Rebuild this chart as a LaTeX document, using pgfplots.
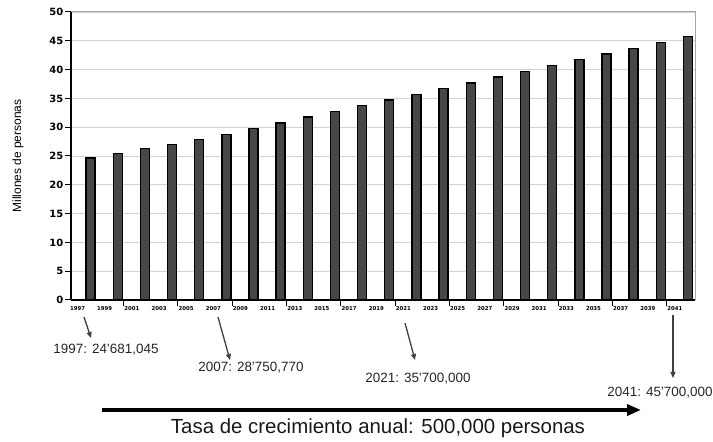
\documentclass[border=0pt]{standalone}
\usepackage{pgfplots}
\pgfplotsset{compat=1.18}
\usepackage{fontspec}
\setmainfont{Liberation Sans}
\newfontfamily\deja{DejaVu Sans}
\usetikzlibrary{arrows.meta}
\begin{document}
\begin{tikzpicture}[x=1bp,y=1bp]
\useasboundingbox (0,0) rectangle (713,442);
\begin{axis}[
  at={(71bp,142bp)}, anchor=south west,
  scale only axis, width=624bp, height=288bp,
  xmin=-0.72, xmax=22.26, ymin=0, ymax=50,
  axis line style={draw=gray!70, line width=1pt},
  ytick={0,5,...,50},
  ytick pos=left, xtick pos=bottom,
  tick align=outside,
  major tick length=6bp,
  tick style={black, line width=1pt},
  ymajorgrids, grid style={gray!35, line width=0.8pt},
  /pgf/number format/assume math mode=true,
  yticklabel style={font=\deja\bfseries\fontsize{10}{12}\selectfont, inner sep=1.5bp},
  xtick={1.22,3.22,5.22,7.22,9.22,11.22,13.22,15.22,17.22,19.22,21.22},
  xticklabels={},
  extra x ticks={0,...,22},
  extra x tick labels={1997,1999,2001,2003,2005,2007,2009,2011,2013,2015,2017,2019,2021,2023,2025,2027,2029,2031,2033,2035,2037,2039,2041},
  extra x tick style={grid=none, major tick length=0pt,
     xticklabel style={font=\deja\bfseries\fontsize{5.4}{6}\selectfont, xshift=-13bp, yshift=-5bp, inner sep=1bp}},
  ylabel={Millones de personas},
  ylabel style={at={(axis description cs:-0.0849,0.5)}, anchor=center, font=\fontsize{12}{14}\selectfont},
  clip=false,
]
\addplot[ybar, bar width=9bp, fill=black!72, draw=black, line width=1.4bp] coordinates {
(0,24.68) (1,25.45) (2,26.25) (3,27.0) (4,27.9) (5,28.75) (6,29.8) (7,30.75) (8,31.75) (9,32.75) (10,33.75)
(11,34.75) (12,35.7) (13,36.7) (14,37.7) (15,38.7) (16,39.7) (17,40.7) (18,41.7) (19,42.7) (20,43.7) (21,44.7) (22,45.7)};
\draw[black, line width=2pt] (rel axis cs:0,0) -- (rel axis cs:0,1);
\draw[black, line width=1.5pt] (rel axis cs:0,0) -- (rel axis cs:1,0);
\end{axis}
% annotations
\begin{scope}[black!75, line width=1.3bp, -{Triangle[length=6bp,width=5bp]}]
\draw (84,125) -- (91,104);
\draw (218,125) -- (230,82);
\draw (405,119) -- (415,82);
\draw (673,127) -- (673,64);
\end{scope}
\begin{scope}[font=\fontsize{13.5}{15}\selectfont, text=black!85]
\node at (106,92) {1997: 24'681,045};
\node at (251,74) {2007: 28'750,770};
\node at (418,63) {2021: 35'700,000};
\node at (660,49) {2041: 45'700,000};
\end{scope}
\draw[black, line width=4bp, -{Triangle[length=14bp,width=11bp]}] (102,32) -- (641,32);
\node[font=\fontsize{20.5}{23}\selectfont, text=black!90] at (378,14) {Tasa de crecimiento anual: 500,000 personas};
\end{tikzpicture}
\end{document}
